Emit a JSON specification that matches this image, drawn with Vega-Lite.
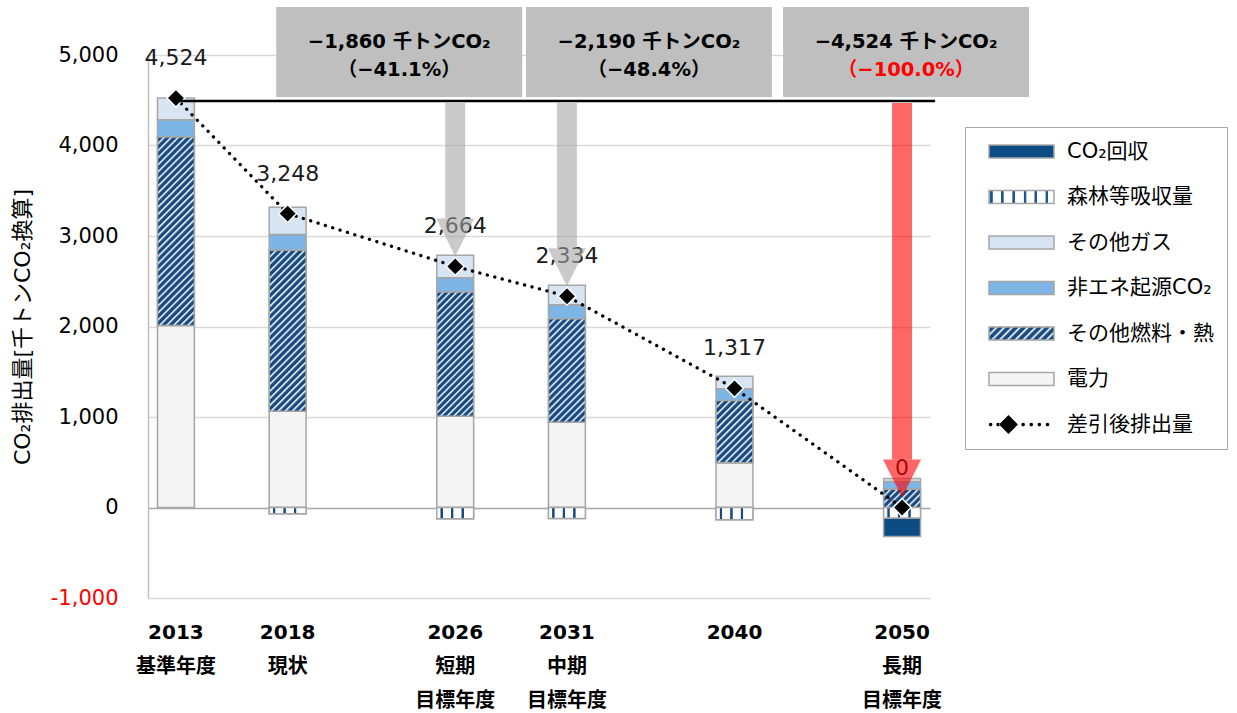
{
  "$schema": "https://vega.github.io/schema/vega-lite/v6.json",
  "width": 782,
  "height": 543,
  "autosize": {"type": "none"},
  "padding": {"left": 148, "top": 55, "right": 307, "bottom": 115},
  "background": "#ffffff",
  "config": {"view": {"stroke": null}, "font": "DejaVu Sans, Noto Sans CJK JP"},
  "params": [
    {"name": "fuelKey", "value": {"gradient": "linear", "x1": 0, "y1": 0, "x2": 1.1538, "y2": 0.2308, "stops": [
      {"offset":0,"color":"#fff"},{"offset":0.035,"color":"#174a80"},{"offset":0.075,"color":"#174a80"},
      {"offset":0.1,"color":"#fff"},{"offset":0.135,"color":"#174a80"},{"offset":0.175,"color":"#174a80"},
      {"offset":0.2,"color":"#fff"},{"offset":0.235,"color":"#174a80"},{"offset":0.275,"color":"#174a80"},
      {"offset":0.3,"color":"#fff"},{"offset":0.335,"color":"#174a80"},{"offset":0.375,"color":"#174a80"},
      {"offset":0.4,"color":"#fff"},{"offset":0.435,"color":"#174a80"},{"offset":0.475,"color":"#174a80"},
      {"offset":0.5,"color":"#fff"},{"offset":0.535,"color":"#174a80"},{"offset":0.575,"color":"#174a80"},
      {"offset":0.6,"color":"#fff"},{"offset":0.635,"color":"#174a80"},{"offset":0.675,"color":"#174a80"},
      {"offset":0.7,"color":"#fff"},{"offset":0.735,"color":"#174a80"},{"offset":0.775,"color":"#174a80"},
      {"offset":0.8,"color":"#fff"},{"offset":0.835,"color":"#174a80"},{"offset":0.875,"color":"#174a80"},
      {"offset":0.9,"color":"#fff"},{"offset":0.935,"color":"#174a80"},{"offset":0.975,"color":"#174a80"},
      {"offset":1,"color":"#fff"}]}},
    {"name": "forestKey", "value": {"gradient": "linear", "x1": 0, "y1": 0, "x2": 1, "y2": 0, "stops": [
      {"offset":0,"color":"#fff"},{"offset":0.02,"color":"#1d5690"},{"offset":0.05,"color":"#1d5690"},{"offset":0.07,"color":"#fff"},
      {"offset":0.18,"color":"#fff"},{"offset":0.19,"color":"#1d5690"},{"offset":0.22,"color":"#1d5690"},{"offset":0.23,"color":"#fff"},
      {"offset":0.355,"color":"#fff"},{"offset":0.365,"color":"#1d5690"},{"offset":0.395,"color":"#1d5690"},{"offset":0.405,"color":"#fff"},
      {"offset":0.53,"color":"#fff"},{"offset":0.54,"color":"#1d5690"},{"offset":0.57,"color":"#1d5690"},{"offset":0.58,"color":"#fff"},
      {"offset":0.695,"color":"#fff"},{"offset":0.705,"color":"#1d5690"},{"offset":0.735,"color":"#1d5690"},{"offset":0.745,"color":"#fff"},
      {"offset":0.865,"color":"#fff"},{"offset":0.875,"color":"#1d5690"},{"offset":0.905,"color":"#1d5690"},{"offset":0.915,"color":"#fff"},
      {"offset":1,"color":"#fff"}]}},
    {"name": "fuel2013", "value": {"gradient": "linear", "x1": 0, "y1": 0, "x2": 0.2258, "y2": 1.1516, "stops": [
      {"offset":0,"color":"#fff"},{"offset":0.0109,"color":"#174a80"},{"offset":0.0234,"color":"#174a80"},
      {"offset":0.03125,"color":"#fff"},{"offset":0.0422,"color":"#174a80"},{"offset":0.0547,"color":"#174a80"},
      {"offset":0.0625,"color":"#fff"},{"offset":0.0734,"color":"#174a80"},{"offset":0.0859,"color":"#174a80"},
      {"offset":0.09375,"color":"#fff"},{"offset":0.1047,"color":"#174a80"},{"offset":0.1172,"color":"#174a80"},
      {"offset":0.125,"color":"#fff"},{"offset":0.1359,"color":"#174a80"},{"offset":0.1484,"color":"#174a80"},
      {"offset":0.15625,"color":"#fff"},{"offset":0.1672,"color":"#174a80"},{"offset":0.1797,"color":"#174a80"},
      {"offset":0.1875,"color":"#fff"},{"offset":0.1984,"color":"#174a80"},{"offset":0.2109,"color":"#174a80"},
      {"offset":0.21875,"color":"#fff"},{"offset":0.2297,"color":"#174a80"},{"offset":0.2422,"color":"#174a80"},
      {"offset":0.25,"color":"#fff"},{"offset":0.2609,"color":"#174a80"},{"offset":0.2734,"color":"#174a80"},
      {"offset":0.28125,"color":"#fff"},{"offset":0.2922,"color":"#174a80"},{"offset":0.3047,"color":"#174a80"},
      {"offset":0.3125,"color":"#fff"},{"offset":0.3234,"color":"#174a80"},{"offset":0.3359,"color":"#174a80"},
      {"offset":0.34375,"color":"#fff"},{"offset":0.3547,"color":"#174a80"},{"offset":0.3672,"color":"#174a80"},
      {"offset":0.375,"color":"#fff"},{"offset":0.3859,"color":"#174a80"},{"offset":0.3984,"color":"#174a80"},
      {"offset":0.40625,"color":"#fff"},{"offset":0.4172,"color":"#174a80"},{"offset":0.4297,"color":"#174a80"},
      {"offset":0.4375,"color":"#fff"},{"offset":0.4484,"color":"#174a80"},{"offset":0.4609,"color":"#174a80"},
      {"offset":0.46875,"color":"#fff"},{"offset":0.4797,"color":"#174a80"},{"offset":0.4922,"color":"#174a80"},
      {"offset":0.5,"color":"#fff"},{"offset":0.5109,"color":"#174a80"},{"offset":0.5234,"color":"#174a80"},
      {"offset":0.53125,"color":"#fff"},{"offset":0.5422,"color":"#174a80"},{"offset":0.5547,"color":"#174a80"},
      {"offset":0.5625,"color":"#fff"},{"offset":0.5734,"color":"#174a80"},{"offset":0.5859,"color":"#174a80"},
      {"offset":0.59375,"color":"#fff"},{"offset":0.6047,"color":"#174a80"},{"offset":0.6172,"color":"#174a80"},
      {"offset":0.625,"color":"#fff"},{"offset":0.6359,"color":"#174a80"},{"offset":0.6484,"color":"#174a80"},
      {"offset":0.65625,"color":"#fff"},{"offset":0.6672,"color":"#174a80"},{"offset":0.6797,"color":"#174a80"},
      {"offset":0.6875,"color":"#fff"},{"offset":0.6984,"color":"#174a80"},{"offset":0.7109,"color":"#174a80"},
      {"offset":0.71875,"color":"#fff"},{"offset":0.7297,"color":"#174a80"},{"offset":0.7422,"color":"#174a80"},
      {"offset":0.75,"color":"#fff"},{"offset":0.7609,"color":"#174a80"},{"offset":0.7734,"color":"#174a80"},
      {"offset":0.78125,"color":"#fff"},{"offset":0.7922,"color":"#174a80"},{"offset":0.8047,"color":"#174a80"},
      {"offset":0.8125,"color":"#fff"},{"offset":0.8234,"color":"#174a80"},{"offset":0.8359,"color":"#174a80"},
      {"offset":0.84375,"color":"#fff"},{"offset":0.8547,"color":"#174a80"},{"offset":0.8672,"color":"#174a80"},
      {"offset":0.875,"color":"#fff"},{"offset":0.8859,"color":"#174a80"},{"offset":0.8984,"color":"#174a80"},
      {"offset":0.90625,"color":"#fff"},{"offset":0.9172,"color":"#174a80"},{"offset":0.9297,"color":"#174a80"},
      {"offset":0.9375,"color":"#fff"},{"offset":0.9484,"color":"#174a80"},{"offset":0.9609,"color":"#174a80"},
      {"offset":0.96875,"color":"#fff"},{"offset":0.9797,"color":"#174a80"},{"offset":0.9922,"color":"#174a80"},
      {"offset":1,"color":"#fff"}]}},
    {"name": "fuel2018", "value": {"gradient": "linear", "x1": 0, "y1": 0, "x2": 0.2685, "y2": 1.1683, "stops": [
      {"offset":0,"color":"#fff"},{"offset":0.0125,"color":"#174a80"},{"offset":0.0268,"color":"#174a80"},
      {"offset":0.0357,"color":"#fff"},{"offset":0.0482,"color":"#174a80"},{"offset":0.0625,"color":"#174a80"},
      {"offset":0.0714,"color":"#fff"},{"offset":0.0839,"color":"#174a80"},{"offset":0.0982,"color":"#174a80"},
      {"offset":0.1071,"color":"#fff"},{"offset":0.1196,"color":"#174a80"},{"offset":0.1339,"color":"#174a80"},
      {"offset":0.1429,"color":"#fff"},{"offset":0.1554,"color":"#174a80"},{"offset":0.1697,"color":"#174a80"},
      {"offset":0.1786,"color":"#fff"},{"offset":0.1911,"color":"#174a80"},{"offset":0.2054,"color":"#174a80"},
      {"offset":0.2143,"color":"#fff"},{"offset":0.2268,"color":"#174a80"},{"offset":0.2411,"color":"#174a80"},
      {"offset":0.25,"color":"#fff"},{"offset":0.2625,"color":"#174a80"},{"offset":0.2768,"color":"#174a80"},
      {"offset":0.2857,"color":"#fff"},{"offset":0.2982,"color":"#174a80"},{"offset":0.3125,"color":"#174a80"},
      {"offset":0.3214,"color":"#fff"},{"offset":0.3339,"color":"#174a80"},{"offset":0.3482,"color":"#174a80"},
      {"offset":0.3571,"color":"#fff"},{"offset":0.3696,"color":"#174a80"},{"offset":0.3839,"color":"#174a80"},
      {"offset":0.3929,"color":"#fff"},{"offset":0.4054,"color":"#174a80"},{"offset":0.4197,"color":"#174a80"},
      {"offset":0.4286,"color":"#fff"},{"offset":0.4411,"color":"#174a80"},{"offset":0.4554,"color":"#174a80"},
      {"offset":0.4643,"color":"#fff"},{"offset":0.4768,"color":"#174a80"},{"offset":0.4911,"color":"#174a80"},
      {"offset":0.5,"color":"#fff"},{"offset":0.5125,"color":"#174a80"},{"offset":0.5268,"color":"#174a80"},
      {"offset":0.5357,"color":"#fff"},{"offset":0.5482,"color":"#174a80"},{"offset":0.5625,"color":"#174a80"},
      {"offset":0.5714,"color":"#fff"},{"offset":0.5839,"color":"#174a80"},{"offset":0.5982,"color":"#174a80"},
      {"offset":0.6071,"color":"#fff"},{"offset":0.6196,"color":"#174a80"},{"offset":0.6339,"color":"#174a80"},
      {"offset":0.6429,"color":"#fff"},{"offset":0.6554,"color":"#174a80"},{"offset":0.6697,"color":"#174a80"},
      {"offset":0.6786,"color":"#fff"},{"offset":0.6911,"color":"#174a80"},{"offset":0.7054,"color":"#174a80"},
      {"offset":0.7143,"color":"#fff"},{"offset":0.7268,"color":"#174a80"},{"offset":0.7411,"color":"#174a80"},
      {"offset":0.75,"color":"#fff"},{"offset":0.7625,"color":"#174a80"},{"offset":0.7768,"color":"#174a80"},
      {"offset":0.7857,"color":"#fff"},{"offset":0.7982,"color":"#174a80"},{"offset":0.8125,"color":"#174a80"},
      {"offset":0.8214,"color":"#fff"},{"offset":0.8339,"color":"#174a80"},{"offset":0.8482,"color":"#174a80"},
      {"offset":0.8571,"color":"#fff"},{"offset":0.8696,"color":"#174a80"},{"offset":0.8839,"color":"#174a80"},
      {"offset":0.8929,"color":"#fff"},{"offset":0.9054,"color":"#174a80"},{"offset":0.9197,"color":"#174a80"},
      {"offset":0.9286,"color":"#fff"},{"offset":0.9411,"color":"#174a80"},{"offset":0.9554,"color":"#174a80"},
      {"offset":0.9643,"color":"#fff"},{"offset":0.9768,"color":"#174a80"},{"offset":0.9911,"color":"#174a80"},
      {"offset":1,"color":"#fff"}]}},
    {"name": "fuel2026", "value": {"gradient": "linear", "x1": 0, "y1": 0, "x2": 0.3554, "y2": 1.192, "stops": [
      {"offset":0,"color":"#fff"},{"offset":0.0146,"color":"#174a80"},{"offset":0.0313,"color":"#174a80"},
      {"offset":0.0417,"color":"#fff"},{"offset":0.0563,"color":"#174a80"},{"offset":0.0729,"color":"#174a80"},
      {"offset":0.0833,"color":"#fff"},{"offset":0.0979,"color":"#174a80"},{"offset":0.1146,"color":"#174a80"},
      {"offset":0.125,"color":"#fff"},{"offset":0.1396,"color":"#174a80"},{"offset":0.1563,"color":"#174a80"},
      {"offset":0.1667,"color":"#fff"},{"offset":0.1813,"color":"#174a80"},{"offset":0.1979,"color":"#174a80"},
      {"offset":0.2083,"color":"#fff"},{"offset":0.2229,"color":"#174a80"},{"offset":0.2396,"color":"#174a80"},
      {"offset":0.25,"color":"#fff"},{"offset":0.2646,"color":"#174a80"},{"offset":0.2813,"color":"#174a80"},
      {"offset":0.2917,"color":"#fff"},{"offset":0.3063,"color":"#174a80"},{"offset":0.3229,"color":"#174a80"},
      {"offset":0.3333,"color":"#fff"},{"offset":0.3479,"color":"#174a80"},{"offset":0.3646,"color":"#174a80"},
      {"offset":0.375,"color":"#fff"},{"offset":0.3896,"color":"#174a80"},{"offset":0.4063,"color":"#174a80"},
      {"offset":0.4167,"color":"#fff"},{"offset":0.4313,"color":"#174a80"},{"offset":0.4479,"color":"#174a80"},
      {"offset":0.4583,"color":"#fff"},{"offset":0.4729,"color":"#174a80"},{"offset":0.4896,"color":"#174a80"},
      {"offset":0.5,"color":"#fff"},{"offset":0.5146,"color":"#174a80"},{"offset":0.5313,"color":"#174a80"},
      {"offset":0.5417,"color":"#fff"},{"offset":0.5563,"color":"#174a80"},{"offset":0.5729,"color":"#174a80"},
      {"offset":0.5833,"color":"#fff"},{"offset":0.5979,"color":"#174a80"},{"offset":0.6146,"color":"#174a80"},
      {"offset":0.625,"color":"#fff"},{"offset":0.6396,"color":"#174a80"},{"offset":0.6563,"color":"#174a80"},
      {"offset":0.6667,"color":"#fff"},{"offset":0.6813,"color":"#174a80"},{"offset":0.6979,"color":"#174a80"},
      {"offset":0.7083,"color":"#fff"},{"offset":0.7229,"color":"#174a80"},{"offset":0.7396,"color":"#174a80"},
      {"offset":0.75,"color":"#fff"},{"offset":0.7646,"color":"#174a80"},{"offset":0.7813,"color":"#174a80"},
      {"offset":0.7917,"color":"#fff"},{"offset":0.8063,"color":"#174a80"},{"offset":0.8229,"color":"#174a80"},
      {"offset":0.8333,"color":"#fff"},{"offset":0.8479,"color":"#174a80"},{"offset":0.8646,"color":"#174a80"},
      {"offset":0.875,"color":"#fff"},{"offset":0.8896,"color":"#174a80"},{"offset":0.9063,"color":"#174a80"},
      {"offset":0.9167,"color":"#fff"},{"offset":0.9313,"color":"#174a80"},{"offset":0.9479,"color":"#174a80"},
      {"offset":0.9583,"color":"#fff"},{"offset":0.9729,"color":"#174a80"},{"offset":0.9896,"color":"#174a80"},
      {"offset":1,"color":"#fff"}]}},
    {"name": "fuel2031", "value": {"gradient": "linear", "x1": 0, "y1": 0, "x2": 0.4308, "y2": 1.2037, "stops": [
      {"offset":0,"color":"#fff"},{"offset":0.0175,"color":"#174a80"},{"offset":0.0375,"color":"#174a80"},
      {"offset":0.05,"color":"#fff"},{"offset":0.0675,"color":"#174a80"},{"offset":0.0875,"color":"#174a80"},
      {"offset":0.1,"color":"#fff"},{"offset":0.1175,"color":"#174a80"},{"offset":0.1375,"color":"#174a80"},
      {"offset":0.15,"color":"#fff"},{"offset":0.1675,"color":"#174a80"},{"offset":0.1875,"color":"#174a80"},
      {"offset":0.2,"color":"#fff"},{"offset":0.2175,"color":"#174a80"},{"offset":0.2375,"color":"#174a80"},
      {"offset":0.25,"color":"#fff"},{"offset":0.2675,"color":"#174a80"},{"offset":0.2875,"color":"#174a80"},
      {"offset":0.3,"color":"#fff"},{"offset":0.3175,"color":"#174a80"},{"offset":0.3375,"color":"#174a80"},
      {"offset":0.35,"color":"#fff"},{"offset":0.3675,"color":"#174a80"},{"offset":0.3875,"color":"#174a80"},
      {"offset":0.4,"color":"#fff"},{"offset":0.4175,"color":"#174a80"},{"offset":0.4375,"color":"#174a80"},
      {"offset":0.45,"color":"#fff"},{"offset":0.4675,"color":"#174a80"},{"offset":0.4875,"color":"#174a80"},
      {"offset":0.5,"color":"#fff"},{"offset":0.5175,"color":"#174a80"},{"offset":0.5375,"color":"#174a80"},
      {"offset":0.55,"color":"#fff"},{"offset":0.5675,"color":"#174a80"},{"offset":0.5875,"color":"#174a80"},
      {"offset":0.6,"color":"#fff"},{"offset":0.6175,"color":"#174a80"},{"offset":0.6375,"color":"#174a80"},
      {"offset":0.65,"color":"#fff"},{"offset":0.6675,"color":"#174a80"},{"offset":0.6875,"color":"#174a80"},
      {"offset":0.7,"color":"#fff"},{"offset":0.7175,"color":"#174a80"},{"offset":0.7375,"color":"#174a80"},
      {"offset":0.75,"color":"#fff"},{"offset":0.7675,"color":"#174a80"},{"offset":0.7875,"color":"#174a80"},
      {"offset":0.8,"color":"#fff"},{"offset":0.8175,"color":"#174a80"},{"offset":0.8375,"color":"#174a80"},
      {"offset":0.85,"color":"#fff"},{"offset":0.8675,"color":"#174a80"},{"offset":0.8875,"color":"#174a80"},
      {"offset":0.9,"color":"#fff"},{"offset":0.9175,"color":"#174a80"},{"offset":0.9375,"color":"#174a80"},
      {"offset":0.95,"color":"#fff"},{"offset":0.9675,"color":"#174a80"},{"offset":0.9875,"color":"#174a80"},
      {"offset":1,"color":"#fff"}]}},
    {"name": "fuel2040", "value": {"gradient": "linear", "x1": 0, "y1": 0, "x2": 0.6998, "y2": 1.1778, "stops": [
      {"offset":0,"color":"#fff"},{"offset":0.025,"color":"#174a80"},{"offset":0.0536,"color":"#174a80"},
      {"offset":0.0714,"color":"#fff"},{"offset":0.0964,"color":"#174a80"},{"offset":0.125,"color":"#174a80"},
      {"offset":0.1429,"color":"#fff"},{"offset":0.1679,"color":"#174a80"},{"offset":0.1964,"color":"#174a80"},
      {"offset":0.2143,"color":"#fff"},{"offset":0.2393,"color":"#174a80"},{"offset":0.2679,"color":"#174a80"},
      {"offset":0.2857,"color":"#fff"},{"offset":0.3107,"color":"#174a80"},{"offset":0.3393,"color":"#174a80"},
      {"offset":0.3571,"color":"#fff"},{"offset":0.3821,"color":"#174a80"},{"offset":0.4107,"color":"#174a80"},
      {"offset":0.4286,"color":"#fff"},{"offset":0.4536,"color":"#174a80"},{"offset":0.4821,"color":"#174a80"},
      {"offset":0.5,"color":"#fff"},{"offset":0.525,"color":"#174a80"},{"offset":0.5536,"color":"#174a80"},
      {"offset":0.5714,"color":"#fff"},{"offset":0.5964,"color":"#174a80"},{"offset":0.625,"color":"#174a80"},
      {"offset":0.6429,"color":"#fff"},{"offset":0.6679,"color":"#174a80"},{"offset":0.6964,"color":"#174a80"},
      {"offset":0.7143,"color":"#fff"},{"offset":0.7393,"color":"#174a80"},{"offset":0.7679,"color":"#174a80"},
      {"offset":0.7857,"color":"#fff"},{"offset":0.8107,"color":"#174a80"},{"offset":0.8393,"color":"#174a80"},
      {"offset":0.8571,"color":"#fff"},{"offset":0.8821,"color":"#174a80"},{"offset":0.9107,"color":"#174a80"},
      {"offset":0.9286,"color":"#fff"},{"offset":0.9536,"color":"#174a80"},{"offset":0.9821,"color":"#174a80"},
      {"offset":1,"color":"#fff"}]}},
    {"name": "fuel2050", "value": {"gradient": "linear", "x1": 0, "y1": 0, "x2": 1.2009, "y2": 0.5936, "stops": [
      {"offset":0,"color":"#fff"},{"offset":0.0438,"color":"#174a80"},{"offset":0.0938,"color":"#174a80"},
      {"offset":0.125,"color":"#fff"},{"offset":0.1688,"color":"#174a80"},{"offset":0.2188,"color":"#174a80"},
      {"offset":0.25,"color":"#fff"},{"offset":0.2938,"color":"#174a80"},{"offset":0.3438,"color":"#174a80"},
      {"offset":0.375,"color":"#fff"},{"offset":0.4188,"color":"#174a80"},{"offset":0.4688,"color":"#174a80"},
      {"offset":0.5,"color":"#fff"},{"offset":0.5438,"color":"#174a80"},{"offset":0.5938,"color":"#174a80"},
      {"offset":0.625,"color":"#fff"},{"offset":0.6688,"color":"#174a80"},{"offset":0.7188,"color":"#174a80"},
      {"offset":0.75,"color":"#fff"},{"offset":0.7938,"color":"#174a80"},{"offset":0.8438,"color":"#174a80"},
      {"offset":0.875,"color":"#fff"},{"offset":0.9188,"color":"#174a80"},{"offset":0.9688,"color":"#174a80"},
      {"offset":1,"color":"#fff"}]}}
  ],
  "datasets": {
    "segments": [
      {"cat": "2013", "series": "電力", "value": 2010},
      {"cat": "2013", "series": "その他燃料・熱", "value": 2085},
      {"cat": "2013", "series": "非エネ起源CO₂", "value": 190},
      {"cat": "2013", "series": "その他ガス", "value": 239},
      {"cat": "2018", "series": "電力", "value": 1064},
      {"cat": "2018", "series": "その他燃料・熱", "value": 1779},
      {"cat": "2018", "series": "非エネ起源CO₂", "value": 174},
      {"cat": "2018", "series": "その他ガス", "value": 301},
      {"cat": "2018", "series": "森林等吸収量", "value": -70},
      {"cat": "2026", "series": "電力", "value": 1009},
      {"cat": "2026", "series": "その他燃料・熱", "value": 1371},
      {"cat": "2026", "series": "非エネ起源CO₂", "value": 158},
      {"cat": "2026", "series": "その他ガス", "value": 250},
      {"cat": "2026", "series": "森林等吸収量", "value": -124},
      {"cat": "2031", "series": "電力", "value": 943},
      {"cat": "2031", "series": "その他燃料・熱", "value": 1142},
      {"cat": "2031", "series": "非エネ起源CO₂", "value": 155},
      {"cat": "2031", "series": "その他ガス", "value": 216},
      {"cat": "2031", "series": "森林等吸収量", "value": -122},
      {"cat": "2040", "series": "電力", "value": 494},
      {"cat": "2040", "series": "その他燃料・熱", "value": 688},
      {"cat": "2040", "series": "非エネ起源CO₂", "value": 129},
      {"cat": "2040", "series": "その他ガス", "value": 140},
      {"cat": "2040", "series": "森林等吸収量", "value": -134},
      {"cat": "2050", "series": "その他燃料・熱", "value": 202},
      {"cat": "2050", "series": "非エネ起源CO₂", "value": 85},
      {"cat": "2050", "series": "その他ガス", "value": 33},
      {"cat": "2050", "series": "森林等吸収量", "value": -115},
      {"cat": "2050", "series": "CO₂回収", "value": -205}
    ],
    "totals": [
      {"cat": "2013", "net": 4524},
      {"cat": "2018", "net": 3248},
      {"cat": "2026", "net": 2664},
      {"cat": "2031", "net": 2334},
      {"cat": "2040", "net": 1317},
      {"cat": "2050", "net": 0}
    ],
    "baseline": [
      {"from": "2013", "to": "2050", "level": 4524}
    ],
    "targets": [
      {"cat": "2026", "base": 4524, "net": 2664, "change": -1860, "pct": -0.411},
      {"cat": "2031", "base": 4524, "net": 2334, "change": -2190, "pct": -0.484},
      {"cat": "2050", "base": 4524, "net": 0, "change": -4524, "pct": -1.0}
    ]
  },
  "resolve": {"scale": {"fill": "independent"}},
  "layer": [
    {
      "data": {"name": "segments"},
      "transform": [{"stack": "value", "groupby": ["cat"], "as": ["v0", "v1"]}],
      "mark": {"type": "bar", "stroke": "#a6a6a6", "strokeWidth": 1.5},
      "encoding": {
        "x": {
          "field": "cat", "type": "nominal",
          "scale": {"domain": ["2013", "gap1", "2018", "gap2", "gap3", "2026", "gap4", "2031", "gap5", "gap6", "2040", "gap7", "gap8", "2050"], "paddingInner": 0.34, "paddingOuter": 0.17},
          "axis": {
            "title": null, "domain": false, "ticks": false, "tickSize": 0, "grid": false,
            "labelAngle": 0, "labelFont": "DejaVu Sans, Noto Sans CJK JP", "labelFontSize": 20, "labelFontWeight": "bold",
            "labelColor": "#000000", "labelLineHeight": 34, "labelPadding": 24, "labelOverlap": false, "labelBound": false, "labelFlush": false,
            "labelExpr": "datum.value === '2013' ? ['2013', '基準年度'] : datum.value === '2018' ? ['2018', '現状'] : datum.value === '2026' ? ['2026', '短期', '目標年度'] : datum.value === '2031' ? ['2031', '中期', '目標年度'] : datum.value === '2040' ? '2040' : datum.value === '2050' ? ['2050', '長期', '目標年度'] : ''"
          }
        },
        "y": {
          "field": "v0", "type": "quantitative",
          "scale": {"domain": [-1000, 5000], "nice": false, "zero": false},
          "axis": {
            "title": "CO₂排出量[千トンCO₂換算]",
            "values": [-1000, 0, 1000, 2000, 3000, 4000, 5000],
            "labelExpr": "replace(format(datum.value, ','), '−', '-')",
            "labelFont": "DejaVu Sans", "labelFontSize": 21,
            "labelColor": {"condition": {"test": "datum.value < 0", "value": "#ff0000"}, "value": "#000000"},
            "labelPadding": 30, "ticks": false, "tickSize": 0,
            "domainColor": "#bfbfbf", "domainWidth": 1.5,
            "gridColor": {"condition": {"test": "datum.value === 0", "value": "#a6a6a6"}, "value": "#d9d9d9"},
            "gridWidth": 1.5,
            "titleFont": "DejaVu Sans, Noto Sans CJK JP", "titleFontSize": 22, "titleFontWeight": "normal",
            "titleColor": "#000000", "titlePadding": 16
          }
        },
        "y2": {"field": "v1"},
        "fill": {
          "field": "series", "type": "nominal",
          "scale": {
            "domain": ["CO₂回収", "森林等吸収量", "その他ガス", "非エネ起源CO₂", "その他燃料・熱", "電力", "差引後排出量"],
            "range": ["#0d4b85", {"expr": "forestKey"}, "#d7e5f2", "#7db5e7", {"expr": "fuelKey"}, "#f5f5f5", "#000000"]
          },
          "legend": {
            "title": null, "orient": "none", "legendX": 817, "legendY": 72,
            "symbolType": "M-1,-0.2H1V0.2H-1Z", "symbolSize": 4225,
            "symbolStrokeColor": "#a6a6a6", "symbolStrokeWidth": 1.5, "symbolOffset": 10,
            "labelFont": "DejaVu Sans, Noto Sans CJK JP", "labelFontSize": 21, "labelColor": "#000000",
            "labelOffset": 12, "labelLimit": 0, "labelBaseline": "middle",
            "clipHeight": 23, "rowPadding": 22.5, "padding": 13,
            "strokeColor": "#a6a6a6", "fillColor": "#ffffff",
            "encode": {
              "symbols": {
                "update": {
                  "shape": {"signal": "datum.value === '差引後排出量' ? 'M-1.005,0a0.055,0.055 0 1,0 0.11,0a0.055,0.055 0 1,0 -0.11,0ZM-0.775,0a0.055,0.055 0 1,0 0.11,0a0.055,0.055 0 1,0 -0.11,0ZM-0.69,0L-0.4,-0.29L-0.11,0L-0.4,0.29ZM-0.005,0a0.055,0.055 0 1,0 0.11,0a0.055,0.055 0 1,0 -0.11,0ZM0.245,0a0.055,0.055 0 1,0 0.11,0a0.055,0.055 0 1,0 -0.11,0ZM0.495,0a0.055,0.055 0 1,0 0.11,0a0.055,0.055 0 1,0 -0.11,0ZM0.745,0a0.055,0.055 0 1,0 0.11,0a0.055,0.055 0 1,0 -0.11,0Z' : 'M-1,-0.2H1V0.2H-1Z'"},
                  "stroke": {"signal": "datum.value === '差引後排出量' ? 'transparent' : '#a6a6a6'"}
                }
              }
            }
          }
        }
      }
    },
    {
      "data": {"name": "segments"},
      "transform": [
        {"stack": "value", "groupby": ["cat"], "as": ["v0", "v1"]},
        {"filter": "datum.series === 'その他燃料・熱'"}
      ],
      "mark": {"type": "bar", "stroke": "#a6a6a6", "strokeWidth": 1.5},
      "encoding": {
        "x": {"field": "cat", "type": "nominal"},
        "y": {"field": "v0", "type": "quantitative"},
        "y2": {"field": "v1"},
        "fill": {
          "field": "cat", "type": "nominal",
          "scale": {
            "domain": ["2013", "2018", "2026", "2031", "2040", "2050"],
            "range": [{"expr": "fuel2013"}, {"expr": "fuel2018"}, {"expr": "fuel2026"}, {"expr": "fuel2031"}, {"expr": "fuel2040"}, {"expr": "fuel2050"}]
          },
          "legend": null
        }
      }
    },
    {
      "data": {"name": "segments"},
      "transform": [
        {"stack": "value", "groupby": ["cat"], "as": ["v0", "v1"]},
        {"filter": "datum.series === '森林等吸収量'"}
      ],
      "mark": {
        "type": "bar", "stroke": "#a6a6a6", "strokeWidth": 1.5,
        "fill": {"gradient": "linear", "x1": 0, "y1": 0, "x2": 1, "y2": 0, "stops": [
          {"offset":0,"color":"#fff"},{"offset":0.09,"color":"#fff"},{"offset":0.11,"color":"#174a80"},{"offset":0.155,"color":"#174a80"},{"offset":0.175,"color":"#fff"},
          {"offset":0.375,"color":"#fff"},{"offset":0.395,"color":"#174a80"},{"offset":0.44,"color":"#174a80"},{"offset":0.46,"color":"#fff"},
          {"offset":0.66,"color":"#fff"},{"offset":0.68,"color":"#174a80"},{"offset":0.725,"color":"#174a80"},{"offset":0.745,"color":"#fff"},
          {"offset":1,"color":"#fff"}]}
      },
      "encoding": {
        "x": {"field": "cat", "type": "nominal"},
        "y": {"field": "v0", "type": "quantitative"},
        "y2": {"field": "v1"}
      }
    },
    {
      "data": {"name": "totals"},
      "mark": {"type": "line", "color": "#000000", "strokeWidth": 3.3, "strokeDash": [0.1, 7.6], "strokeCap": "round"},
      "encoding": {
        "x": {"field": "cat", "type": "nominal"},
        "y": {"field": "net", "type": "quantitative"}
      }
    },
    {
      "data": {"name": "totals"},
      "mark": {"type": "point", "shape": "diamond", "filled": true, "size": 320, "color": "#000000", "stroke": "#ffffff", "strokeWidth": 1.5, "opacity": 1},
      "encoding": {
        "x": {"field": "cat", "type": "nominal"},
        "y": {"field": "net", "type": "quantitative"}
      }
    },
    {
      "data": {"name": "totals"},
      "mark": {"type": "text", "dy": -40, "font": "DejaVu Sans", "fontSize": 22, "color": "#1a1a1a"},
      "encoding": {
        "x": {"field": "cat", "type": "nominal"},
        "y": {"field": "net", "type": "quantitative"},
        "text": {"field": "net", "type": "quantitative", "format": ","}
      }
    },
    {
      "data": {"name": "baseline"},
      "mark": {"type": "rule", "color": "#000000", "strokeWidth": 2.5, "yOffset": 3, "x2Offset": 33},
      "encoding": {
        "x": {"field": "from", "type": "nominal"},
        "x2": {"field": "to"},
        "y": {"field": "level", "type": "quantitative"}
      }
    },
    {
      "data": {"name": "targets"},
      "mark": {"type": "bar", "width": 20, "opacity": 0.6, "yOffset": 5, "y2Offset": -48},
      "encoding": {
        "x": {"field": "cat", "type": "nominal"},
        "y": {"field": "base", "type": "quantitative"},
        "y2": {"field": "net"},
        "color": {"condition": {"test": "datum.net <= 0", "value": "#ff0000"}, "value": "#a6a6a6"}
      }
    },
    {
      "data": {"name": "targets"},
      "mark": {"type": "point", "shape": "M-1,-1L1,-1L0,1Z", "filled": true, "size": 1440, "opacity": 0.6, "strokeWidth": 0, "yOffset": -29},
      "encoding": {
        "x": {"field": "cat", "type": "nominal"},
        "y": {"field": "net", "type": "quantitative"},
        "color": {"condition": {"test": "datum.net <= 0", "value": "#ff0000"}, "value": "#a6a6a6"}
      }
    },
    {
      "data": {"name": "targets"},
      "mark": {"type": "bar", "width": 246, "color": "#bfbfbf", "yOffset": -1, "y2Offset": -91,
               "xOffset": {"expr": "datum.cat === '2026' ? -56 : datum.cat === '2031' ? 82 : 4"}},
      "encoding": {
        "x": {"field": "cat", "type": "nominal"},
        "y": {"field": "base", "type": "quantitative"},
        "y2": {"field": "base"}
      }
    },
    {
      "data": {"name": "targets"},
      "mark": {"type": "text", "font": "DejaVu Sans, Noto Sans CJK JP", "fontSize": 19.5, "fontWeight": "bold", "color": "#000000",
               "dy": -56, "xOffset": {"expr": "datum.cat === '2026' ? -56 : datum.cat === '2031' ? 82 : 4"},
               "text": {"expr": "format(datum.change, ',') + ' 千トンCO₂'"}},
      "encoding": {
        "x": {"field": "cat", "type": "nominal"},
        "y": {"field": "base", "type": "quantitative"}
      }
    },
    {
      "data": {"name": "targets"},
      "mark": {"type": "text", "font": "DejaVu Sans, Noto Sans CJK JP", "fontSize": 19.5, "fontWeight": "bold",
               "dy": -28, "xOffset": {"expr": "datum.cat === '2026' ? -56 : datum.cat === '2031' ? 82 : 4"},
               "text": {"expr": "'（' + format(datum.pct, '.1%') + '）'"}},
      "encoding": {
        "x": {"field": "cat", "type": "nominal"},
        "y": {"field": "base", "type": "quantitative"},
        "color": {"condition": {"test": "datum.net <= 0", "value": "#ff0000"}, "value": "#000000"}
      }
    }
  ]
}
